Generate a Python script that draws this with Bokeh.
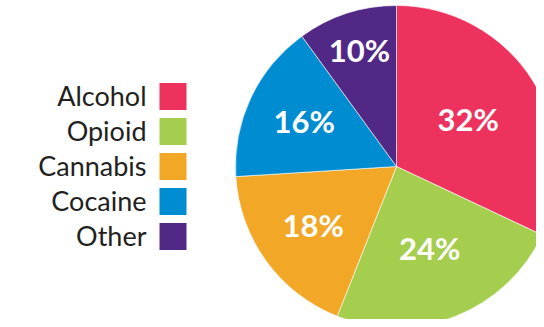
import numpy as np
from bokeh.plotting import figure
from bokeh.models import ColumnDataSource, Range1d
from bokeh.core.properties import value
from bokeh.embed import file_html
from bokeh.resources import INLINE

categories = ["Alcohol", "Opioid", "Cannabis", "Cocaine", "Other"]
shares = [32, 24, 18, 16, 10]
colors = ["#EE325E", "#A6CE4E", "#F2A726", "#008CD1", "#522886"]

# layout constants
W, H = 536, 319
CX, CY, R = 396, 153, 161
label_r = [85, 90, 103, 102, 120]
LEG_X_SQ, LEG_Y0, LEG_STEP, SQ = 172.5, 223, 35, 27
LEG_X_TXT = 146

vals = np.array(shares, dtype=float)
frac = vals / vals.sum()
cum = np.concatenate([[0], np.cumsum(frac)])
start = np.pi / 2 - 2 * np.pi * cum[:-1]
end = np.pi / 2 - 2 * np.pi * cum[1:]
mid = (start + end) / 2
lx = CX + np.array(label_r) * np.cos(mid)
ly = CY + np.array(label_r) * np.sin(mid)

src = ColumnDataSource(dict(
    start=start, end=end, color=colors,
    lx=lx, ly=ly, lab=[f"{s}%" for s in shares],
    cat=categories,
    sqy=[LEG_Y0 - LEG_STEP * i for i in range(len(categories))],
))

p = figure(width=W, height=H, output_backend="svg", toolbar_location=None,
           x_range=Range1d(0, W), y_range=Range1d(0, H), min_border=0)
p.axis.visible = False
p.grid.visible = False
p.outline_line_color = None
p.background_fill_color = "white"
p.border_fill_color = "white"

p.wedge(x=CX, y=CY, radius=R, start_angle="start", end_angle="end",
        direction="clock", fill_color="color", line_color="white",
        line_width=0.6, source=src)

p.text(x="lx", y="ly", text="lab", source=src, text_color="white",
       text_font=value("Lato"), text_font_style="bold",
       text_font_size="31px", text_align="center", text_baseline="middle",
       y_offset=-2)

p.rect(x=LEG_X_SQ, y="sqy", width=SQ, height=SQ, fill_color="color",
       line_color=None, source=src)
p.text(x=LEG_X_TXT, y="sqy", text="cat", source=src, text_color="#231F20",
       text_font=value("Lato"), text_font_size="27px",
       text_align="right", text_baseline="middle", y_offset=-1)

open("out.html", "w").write(file_html(p, INLINE))
